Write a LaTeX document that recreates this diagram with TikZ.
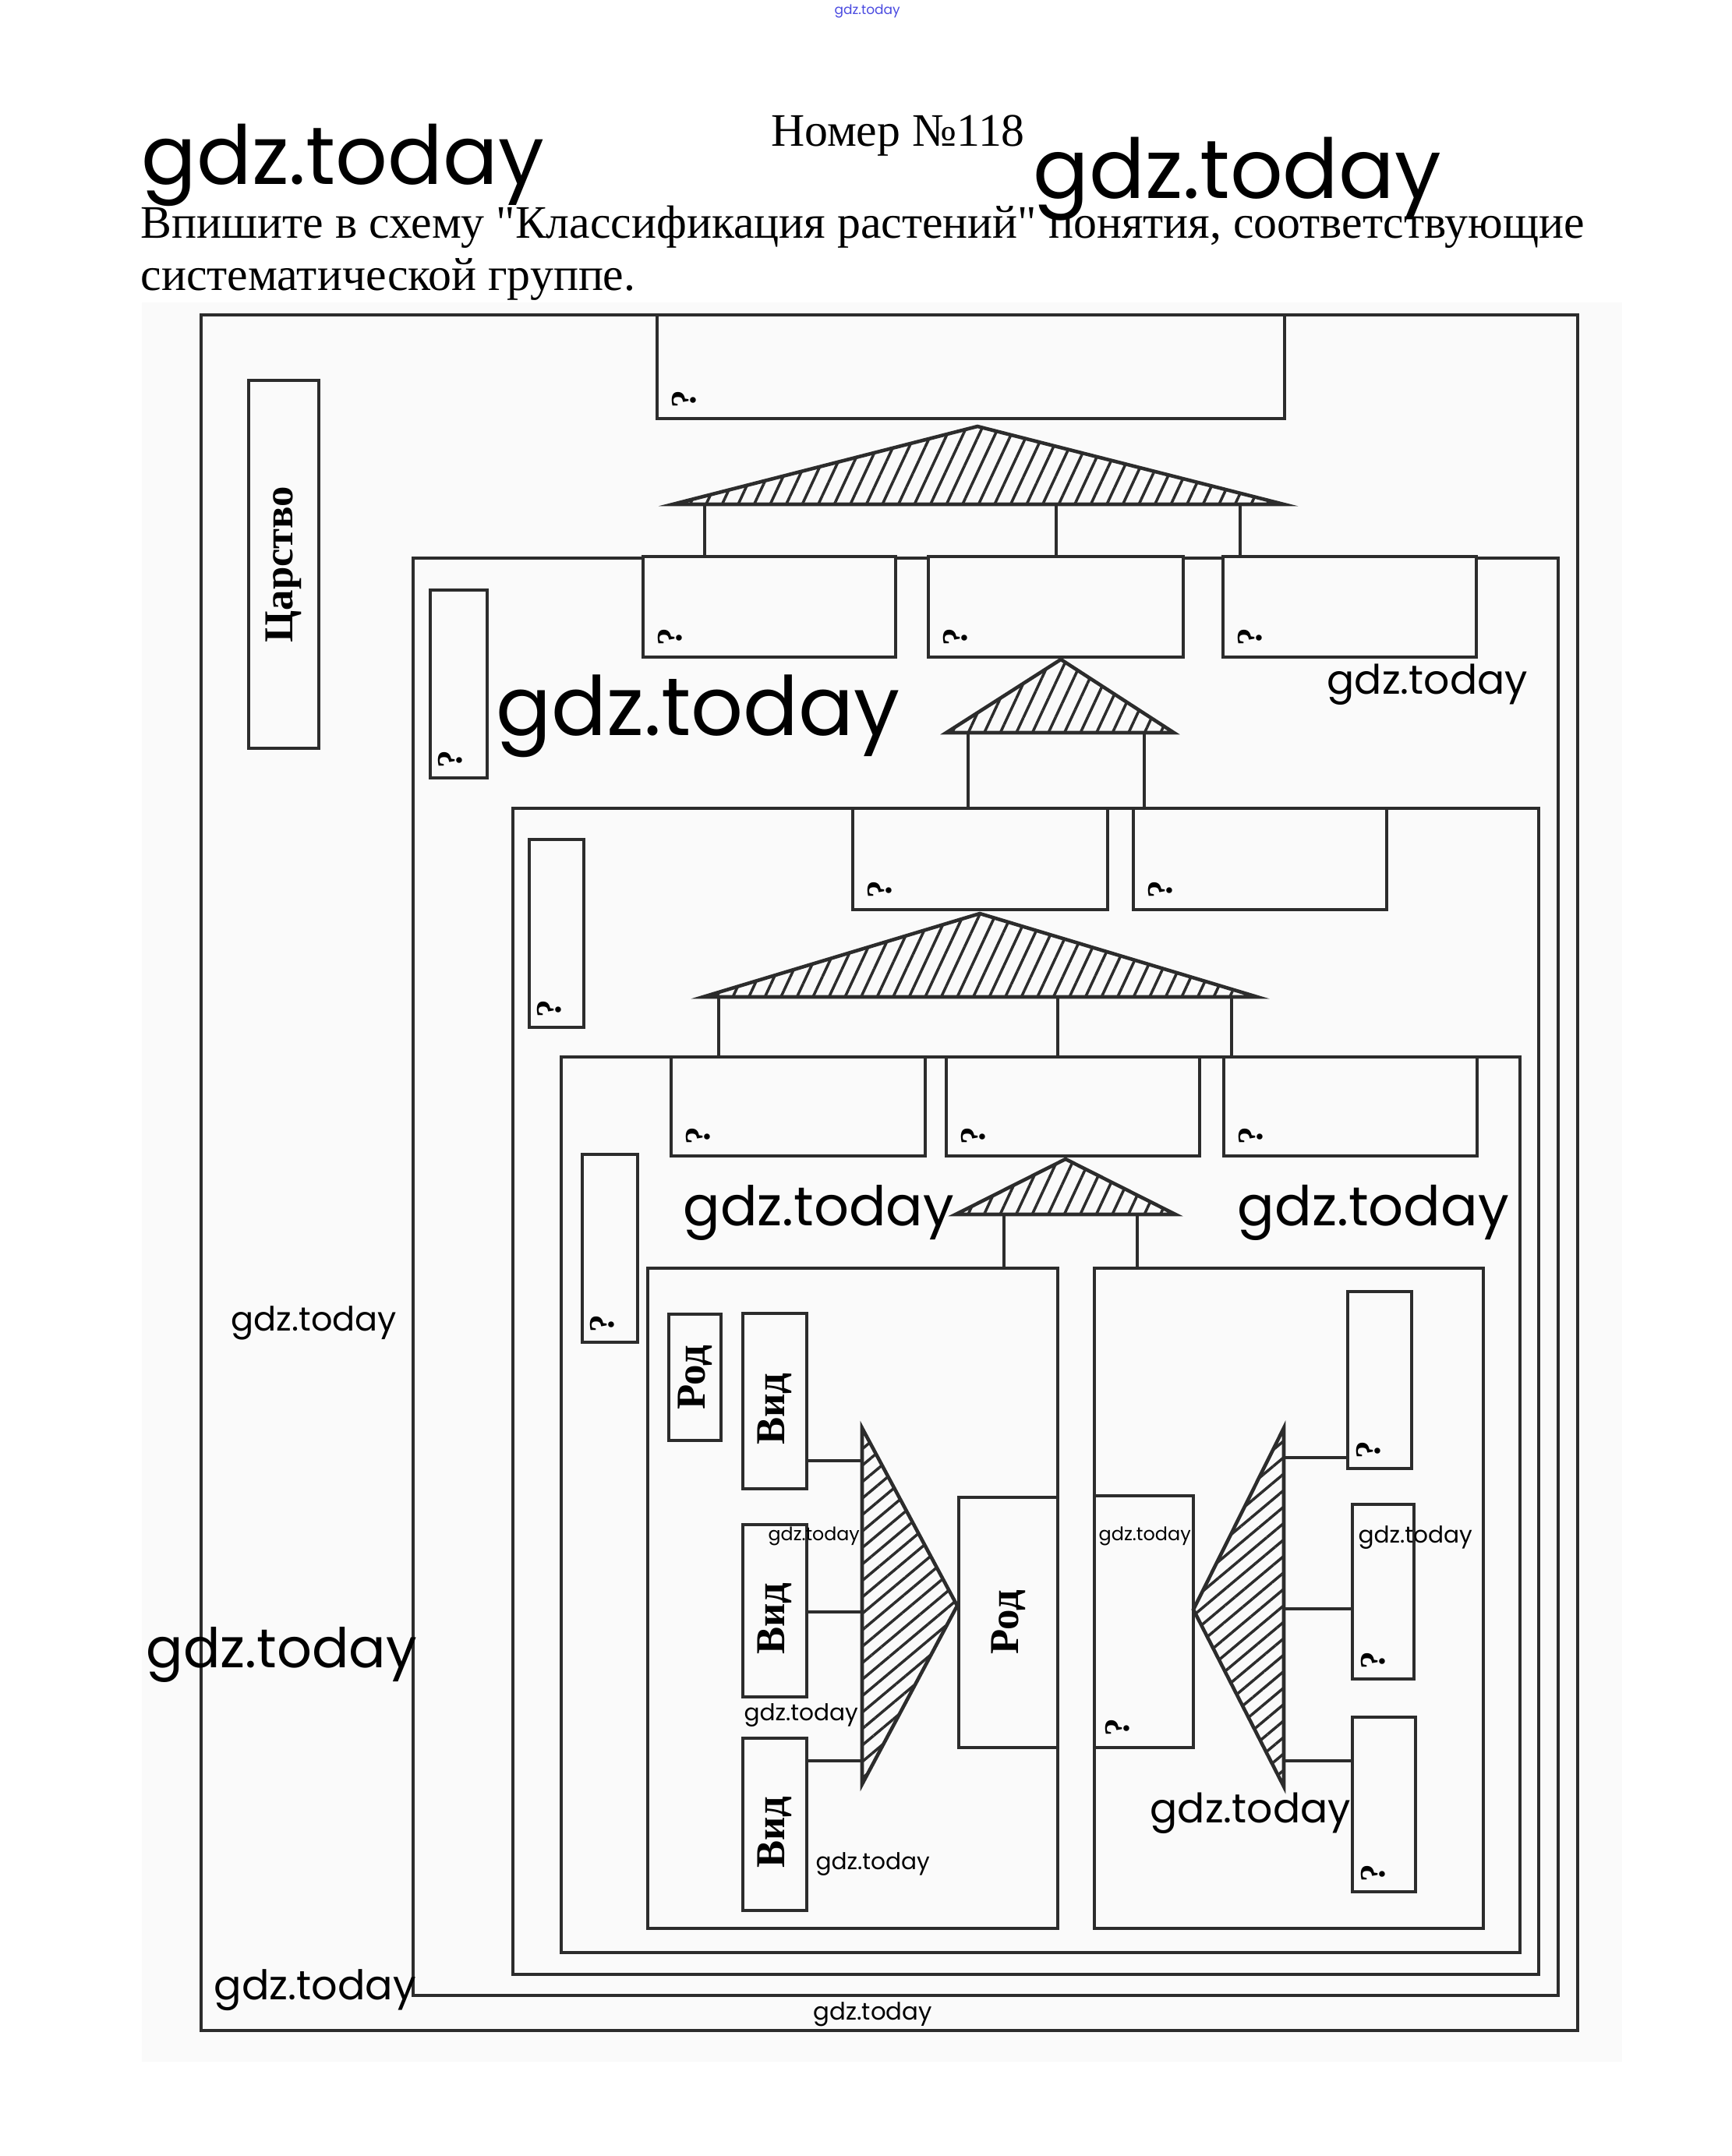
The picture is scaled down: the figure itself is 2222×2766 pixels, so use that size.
\documentclass[tikz,border=0pt]{standalone}
\usepackage{fontspec}
\setmainfont{Liberation Serif}[Ligatures=TeXOff]
\newfontfamily\wmfont{Poppins}
\usetikzlibrary{fit,patterns.meta}
\definecolor{ink}{HTML}{2C2C2C}
\definecolor{scan}{HTML}{FAFAFA}
\definecolor{wmblue}{HTML}{4A4AE0}
\newcommand{\gdz}[1]{\resizebox{#1}{!}{\wmfont gdz.today}}
\tikzset{
  heading/.style={inner sep=0pt,font=\fontsize{17}{17}\selectfont},
  rankframe/.style={draw=ink,line width=1.25pt},
  cell/.style={draw=ink,line width=1.15pt,fill=scan,inner sep=0pt},
  qmark/.style={rotate=90,inner sep=0pt,font=\bfseries\fontsize{13}{13}\selectfont},
  rankname/.style={rotate=90,inner sep=0pt,font=\bfseries\fontsize{15}{15}\selectfont},
  link/.style={draw=ink,line width=0.9pt},
  hatchdown/.style={draw=ink,line width=1.3pt,pattern color=ink,
    pattern={Lines[angle=65,distance=5.3pt,line width=1pt]}},
  hatchside/.style={draw=ink,line width=1.3pt,pattern color=ink,
    pattern={Lines[angle=40,distance=4.6pt,line width=1pt]}},
  wmark/.style={anchor=base west,inner sep=0pt}
}

\begin{document}
\begin{tikzpicture}[x=0.01cm,y=-0.01cm]
\useasboundingbox (0,0) rectangle (2222,2766);
\fill[scan] (182,388) rectangle (2081,2645);

% task text
\node[heading,anchor=base] (num) at (1152,187) {Номер №118};
\node[heading,anchor=base west] (task1) at (180,305) {Впишите в схему "Классификация растений" понятия, соответствующие};
\node[heading,anchor=base west] (task2) at (180,372) {систематической группе.};

% nested frames
\draw[rankframe] (258,404) rectangle (2024,2605);
\draw[rankframe] (530,716) rectangle (1999,2560);
\draw[rankframe] (658,1037) rectangle (1974,2533);
\draw[rankframe] (720,1356) rectangle (1950,2505);

% frame labels
\node[cell,fit={(319,488) (409,960)}] (kingdom) {};
\node[rankname] (kingdom-t) at (kingdom) {Царство};
\foreach \n/\l/\t/\r/\b in {f2lbl/552/757/625/998,f3lbl/679/1077/749/1318,f4lbl/747/1481/818/1722}{
  \node[cell,fit={(\l,\t) (\r,\b)}] (\n) {};
  \node[qmark] (q-\n) at ([shift={(28,-26)}]\n.south west) {?};
}

% level 1
\node[cell,fit={(843,404) (1648,537)}] (top) {};
\node[qmark] (q-top) at ([shift={(37,-27)}]top.south west) {?};
\coordinate (t1l) at (863,647);
\coordinate (t1a) at (1254,547);
\coordinate (t1r) at (1647,647);
\draw[hatchdown] (t1l) -- (t1a) -- (t1r) -- cycle;

% level 2
\foreach \n/\l/\r in {o1/825/1149,o2/1191/1518,o3/1569/1894}{
  \node[cell,fit={(\l,714) (\r,843)}] (\n) {};
  \node[qmark] (q-\n) at ([shift={(37,-28)}]\n.south west) {?};
}
\foreach \x/\b [count=\i] in {904/o1,1355/o2,1591/o3}{
  \coordinate (t1p\i) at (\x,647);
  \draw[link] (t1p\i) -- (t1p\i |- \b.north);
}
\coordinate (t2l) at (1214,940);
\coordinate (t2a) at (1361,846);
\coordinate (t2r) at (1506,940);
\draw[hatchdown] (t2l) -- (t2a) -- (t2r) -- cycle;

% level 3
\foreach \n/\l/\r in {c1/1094/1421,c2/1454/1779}{
  \node[cell,fit={(\l,1037) (\r,1167)}] (\n) {};
  \node[qmark] (q-\n) at ([shift={(37,-28)}]\n.south west) {?};
}
\foreach \x/\b [count=\i] in {1242/c1,1468/c2}{
  \coordinate (t2p\i) at (\x,940);
  \draw[link] (t2p\i) -- (t2p\i |- \b.north);
}
\coordinate (t3l) at (902,1279);
\coordinate (t3a) at (1257,1172);
\coordinate (t3r) at (1613,1279);
\draw[hatchdown] (t3l) -- (t3a) -- (t3r) -- cycle;

% level 4
\foreach \n/\l/\r in {p1/861/1187,p2/1214/1539,p3/1570/1895}{
  \node[cell,fit={(\l,1356) (\r,1483)}] (\n) {};
  \node[qmark] (q-\n) at ([shift={(37,-28)}]\n.south west) {?};
}
\foreach \x/\b [count=\i] in {922/p1,1357/p2,1580/p3}{
  \coordinate (t3p\i) at (\x,1279);
  \draw[link] (t3p\i) -- (t3p\i |- \b.north);
}
\coordinate (t4l) at (1226,1558);
\coordinate (t4a) at (1367,1487);
\coordinate (t4r) at (1508,1558);
\draw[hatchdown] (t4l) -- (t4a) -- (t4r) -- cycle;

% families
\node[cell,fit={(831,1627) (1357,2474)}] (famL) {};
\node[cell,fit={(1404,1627) (1903,2474)}] (famR) {};
\foreach \x/\b [count=\i] in {1288/famL,1459/famR}{
  \coordinate (t4p\i) at (\x,1558);
  \draw[link] (t4p\i) -- (t4p\i |- \b.north);
}

% left family
\node[cell,fit={(858,1686) (925,1848)}] (genus) {};
\node[rankname] (genus-t) at (genus) {Род};
\foreach \n/\t/\b in {v1/1685/1910,v2/1956/2177,v3/2230/2451}{
  \node[cell,fit={(953,\t) (1035,\b)}] (\n) {};
  \node[rankname] (\n-t) at ([shift={(0,10)}]\n.center) {Вид};
}
\coordinate (t5u) at (1106,1832);
\coordinate (t5d) at (1106,2289);
\coordinate (t5a) at (1228,2060);
\draw[hatchside] (t5u) -- (t5a) -- (t5d) -- cycle;
\foreach \y/\b [count=\i] in {1874/v1,2068/v2,2259/v3}{
  \coordinate (t5p\i) at (1106,\y);
  \draw[link] (\b.east |- t5p\i) -- (t5p\i);
}
\node[cell,fit={(1230,1921) (1357,2242)}] (genusbig) {};
\node[rankname] (genusbig-t) at (genusbig) {Род};

% right family
\node[cell,fit={(1404,1919) (1531,2242)}] (gq) {};
\node[qmark] (q-gq) at ([shift={(32,-28)}]gq.south west) {?};
\coordinate (t6u) at (1647,1832);
\coordinate (t6d) at (1647,2292);
\coordinate (t6a) at (1531,2065);
\draw[hatchside] (t6u) -- (t6a) -- (t6d) -- cycle;
\foreach \n/\l/\t/\r/\b in {s1/1729/1657/1811/1884,s2/1735/1930/1814/2154,s3/1735/2203/1816/2427}{
  \node[cell,fit={(\l,\t) (\r,\b)}] (\n) {};
  \node[qmark] (q-\n) at ([shift={(29,-26)}]\n.south west) {?};
}
\foreach \y/\b [count=\i] in {1870/s1,2064/s2,2259/s3}{
  \coordinate (t6p\i) at (1647,\y);
  \draw[link] (t6p\i) -- (\b.west |- t6p\i);
}

% watermarks
\node[wmark,text=wmblue] (wm1) at (1070,18) {\gdz{0.84cm}};
\node[wmark] (wm2) at (181,236) {\gdz{5.16cm}};
\node[wmark] (wm3) at (1325,254) {\gdz{5.23cm}};
\node[wmark] (wm4) at (636,943) {\gdz{5.18cm}};
\node[wmark] (wm5) at (1702,890) {\gdz{2.57cm}};
\node[wmark] (wm6) at (876,1572) {\gdz{3.47cm}};
\node[wmark] (wm7) at (1587,1572) {\gdz{3.48cm}};
\node[wmark] (wm8) at (296,1707) {\gdz{2.12cm}};
\node[wmark] (wm9) at (187,2139) {\gdz{3.47cm}};
\node[wmark] (wm10) at (985,1976) {\gdz{1.17cm}};
\node[wmark] (wm11) at (954,2207) {\gdz{1.46cm}};
\node[wmark] (wm12) at (1046,2398) {\gdz{1.46cm}};
\node[wmark] (wm13) at (1409,1976) {\gdz{1.18cm}};
\node[wmark] (wm14) at (1742,1979) {\gdz{1.46cm}};
\node[wmark] (wm15) at (1475,2338) {\gdz{2.57cm}};
\node[wmark] (wm16) at (274,2565) {\gdz{2.59cm}};
\node[wmark] (wm17) at (1043,2591) {\gdz{1.52cm}};
\end{tikzpicture}
\end{document}
